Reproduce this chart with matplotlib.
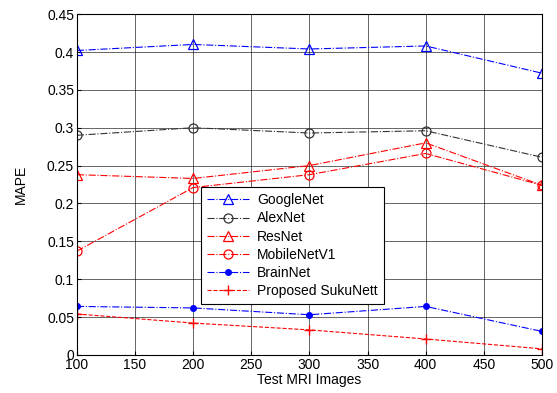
import matplotlib
matplotlib.use('Agg')
import matplotlib.pyplot as plt

plt.rcParams['font.family'] = ['Liberation Sans', 'DejaVu Sans']

# ── Data ──────────────────────────────────────────────────────────────────────
images      = [100, 200, 300, 400, 500]
googlenet   = [0.402, 0.410, 0.404, 0.408, 0.372]
alexnet     = [0.290, 0.300, 0.293, 0.296, 0.261]
resnet      = [0.238, 0.233, 0.250, 0.280, 0.224]
mobilenet   = [0.137, 0.221, 0.238, 0.266, 0.224]
brainnet    = [0.064, 0.062, 0.053, 0.064, 0.031]
sukunett    = [0.054, 0.042, 0.033, 0.021, 0.008]

x_ticks = [100, 150, 200, 250, 300, 350, 400, 450, 500]
y_ticks = [0, 0.05, 0.1, 0.15, 0.2, 0.25, 0.3, 0.35, 0.4, 0.45]
y_labels = ['0', '0.05', '0.1', '0.15', '0.2', '0.25', '0.3', '0.35', '0.4', '0.45']

# ── Plot ──────────────────────────────────────────────────────────────────────
fig = plt.figure(figsize=(5.57, 3.93), dpi=100)
ax = fig.add_axes([0.138, 0.097, 0.835, 0.867])

ax.plot(images, googlenet, color='blue', ls='-.', lw=0.8, marker='^',
        ms=6.5, mfc='none', mew=0.9, label='GoogleNet')
ax.plot(images, alexnet, color='#333333', ls='-.', lw=0.8, marker='o',
        ms=6.5, mfc='none', mew=0.9, label='AlexNet')
ax.plot(images, resnet, color='red', ls='-.', lw=0.8, marker='^',
        ms=6.5, mfc='none', mew=0.9, label='ResNet')
ax.plot(images, mobilenet, color='red', ls='-.', lw=0.8, marker='o',
        ms=6.5, mfc='none', mew=0.9, label='MobileNetV1')
ax.plot(images, brainnet, color='blue', ls='-.', lw=0.8, marker='.',
        ms=8, label='BrainNet')
ax.plot(images, sukunett, color='red', ls='--', lw=0.8, marker='+',
        ms=7, mew=1.0, label='Proposed SukuNett')

ax.set_xlim(100, 500)
ax.set_ylim(0, 0.45)
ax.set_xticks(x_ticks)
ax.set_yticks(y_ticks)
ax.set_yticklabels(y_labels)
ax.tick_params(labelsize=10, direction='in', length=3, pad=2)
ax.grid(True, color='black', lw=0.6, alpha=0.7)
ax.set_xlabel('Test MRI Images', fontsize=10, labelpad=1)
ax.set_ylabel('MAPE', fontsize=10, labelpad=14)
for s in ax.spines.values():
    s.set_linewidth(0.8)

leg = ax.legend(loc='upper left', bbox_to_anchor=(0.361, 0.524),
                bbox_transform=fig.transFigure, fontsize=10, fancybox=False,
                edgecolor='black', framealpha=1, borderaxespad=0,
                handlelength=3, handletextpad=0.6, labelspacing=0.3,
                borderpad=0.45)
leg.get_frame().set_linewidth(0.8)

fig.savefig('out.png', dpi=100)
